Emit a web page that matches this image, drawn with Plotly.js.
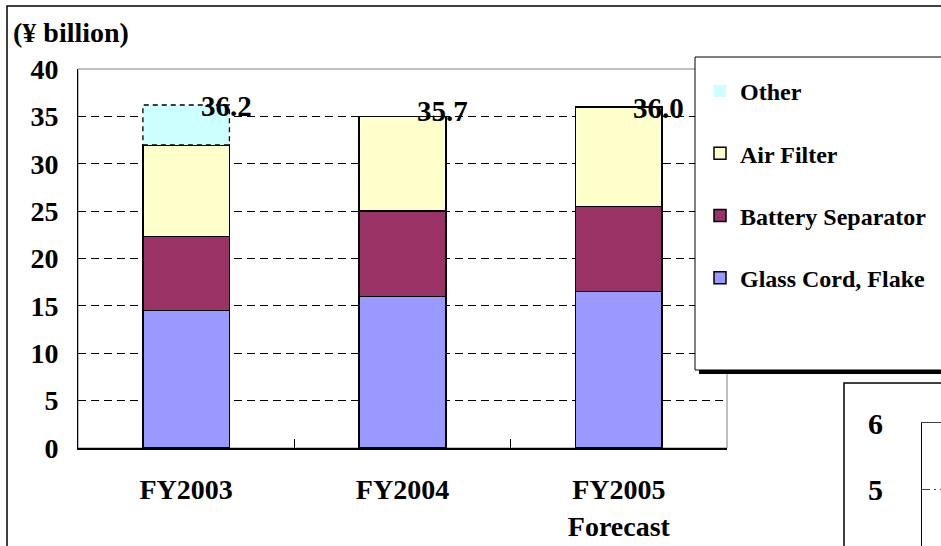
<!DOCTYPE html>
<html>
<head>
<meta charset="utf-8">
<script src="https://cdn.plot.ly/plotly-3.0.1.min.js"></script>
<style>
html,body{margin:0;padding:0;overflow:hidden;background:#fff;}
#chart{width:1000px;height:900px;}
</style>
</head>
<body>
<div id="chart"></div>
<script>
// ---- data ----
const categories = ["FY2003", "FY2004", "FY2005<br>Forecast"];
const glassCordFlake = [14.5, 16.0, 16.5];
const batterySeparator = [7.8, 9.0, 9.0];
const airFilter = [9.7, 10.0, 10.5];
const other = [4.2, 0, 0];
const totalLabels = ["36.2", "35.7", "36.0"];
const totals = [36.2, 35.7, 36.0];
const insetTicks = [0, 1, 2, 3, 4, 5, 6];

const W = 1000, H = 900;
const FONT = "Liberation Serif";
const xs = categories.map((_, i) => i);
const BW = 0.4;

function barTrace(name, vals, color, lw, group, rank) {
  return {
    type: "bar", x: xs, y: vals, name: name, width: BW,
    legendgroup: group, legendrank: rank,
    marker: {color: color, line: {color: "#000", width: lw}},
    hoverinfo: "skip"
  };
}

const traces = [
  barTrace("Glass Cord, Flake", glassCordFlake, "#9999FF", 1.5, "g1", 4),
  barTrace("Battery Separator", batterySeparator, "#993366", 1.5, "g2", 3),
  barTrace("Air Filter", airFilter, "#FFFFCC", 1.5, "g3", 2),
  barTrace("Other", other, "#CCFFFF", 0, "g4", 1)
];

// dashed outline around the "Other" segment, derived from the data
other.forEach((v, i) => {
  if (v <= 0) return;
  const base = glassCordFlake[i] + batterySeparator[i] + airFilter[i];
  const top = base + v;
  traces.push({
    type: "scatter", mode: "lines",
    x: [i - BW / 2, i + BW / 2, i + BW / 2, i - BW / 2, i - BW / 2],
    y: [base, base, top, top, base],
    line: {color: "#000", width: 1.3, dash: "5px,4px"},
    showlegend: false, hoverinfo: "skip", legendgroup: "g4", legendrank: 1
  });
});

// inset axis placeholder trace (empty)
traces.push({type: "scatter", x: [], y: [], xaxis: "x2", yaxis: "y2", showlegend: false, hoverinfo: "skip"});

const py = v => (H - v) / H;   // pixel-from-top -> paper
const px = v => v / W;

const annotations = totals.map((t, i) => ({
  x: i, y: t, xref: "x", yref: "y", text: totalLabels[i],
  showarrow: false, xshift: 40, yshift: -1, xanchor: "center", yanchor: "middle",
  font: {family: FONT, size: 29, color: "#000", weight: "bold"}
}));
annotations.push({
  x: px(11), y: py(32), xref: "paper", yref: "paper", text: "(¥ billion)",
  showarrow: false, xanchor: "left", yanchor: "middle",
  font: {family: FONT, size: 28, color: "#000", weight: "bold"}
});

const shapes = [
  // outer frame of the whole chart
  {type: "rect", xref: "paper", yref: "paper", x0: px(7), x1: px(995), y0: py(6), y1: py(895),
   line: {color: "#000", width: 1.5}, fillcolor: "rgba(0,0,0,0)", layer: "below"},
  // plot area frame (gray)
  {type: "rect", xref: "x domain", yref: "y domain", x0: 0, x1: 1, y0: 0, y1: 1,
   line: {color: "#808080", width: 1}, layer: "below"},
  // inset chart box
  {type: "rect", xref: "paper", yref: "paper", x0: px(844), x1: px(990), y0: py(383), y1: py(890),
   line: {color: "#000", width: 1.5}, fillcolor: "#fff", layer: "below"},
  // legend shadow
  {type: "rect", xref: "paper", yref: "paper", x0: px(699), x1: px(990), y0: py(61), y1: py(374),
   line: {width: 0}, fillcolor: "#000", layer: "above"},
  // legend box
  {type: "rect", xref: "paper", yref: "paper", x0: px(695), x1: px(986), y0: py(57), y1: py(370),
   line: {color: "#000", width: 1}, fillcolor: "#fff", layer: "above"}
];

const layout = {
  width: W, height: H,
  margin: {l: 0, r: 0, t: 0, b: 0},
  paper_bgcolor: "#fff", plot_bgcolor: "rgba(0,0,0,0)",
  barmode: "stack",
  hovermode: false,
  font: {family: FONT, color: "#000", weight: "bold"},
  xaxis: {
    domain: [px(78), px(727)], range: [-0.5, 2.5],
    tickvals: xs, ticktext: categories, ticks: "",
    ticklabelstandoff: 16,
    tickfont: {family: FONT, size: 28, color: "#000", weight: "bold"},
    showline: true, linecolor: "#000", linewidth: 1.5,
    showgrid: false, zeroline: false, fixedrange: true,
    minor: {tickvals: [0.5, 1.5], ticks: "inside", ticklen: 9, tickcolor: "#000", tickwidth: 1, showgrid: false}
  },
  yaxis: {
    domain: [py(448), py(69)], range: [0, 40], dtick: 5, tick0: 0,
    ticks: "", ticklabelstandoff: 13,
    tickfont: {family: FONT, size: 28, color: "#000", weight: "bold"},
    showline: true, linecolor: "#000", linewidth: 1,
    showgrid: true, gridcolor: "#000", gridwidth: 1, griddash: "8px,5px",
    zeroline: false, fixedrange: true
  },
  xaxis2: {
    domain: [px(922), 1], range: [0, 1], anchor: "y2", side: "top",
    showline: true, linecolor: "#404040", linewidth: 1,
    showticklabels: false, ticks: "", showgrid: false, zeroline: false, fixedrange: true
  },
  yaxis2: {
    domain: [py(819), py(423)], range: [0, 6], tickvals: insetTicks, anchor: "x2",
    ticks: "", ticklabelstandoff: 32,
    tickfont: {family: FONT, size: 30, color: "#000", weight: "bold"},
    showline: true, linecolor: "#000", linewidth: 1,
    showgrid: true, gridcolor: "#404040", gridwidth: 1, griddash: "8px,4px,2px,4px",
    zeroline: false, fixedrange: true
  },
  showlegend: true,
  legend: {
    x: px(700), y: py(69), xanchor: "left", yanchor: "top",
    traceorder: "grouped", tracegroupgap: 28,
    bgcolor: "rgba(0,0,0,0)", borderwidth: 0,
    font: {family: FONT, size: 24, color: "#000", weight: "bold"}
  },
  shapes: shapes,
  annotations: annotations
};

Plotly.newPlot("chart", traces, layout, {staticPlot: true, displayModeBar: false});
</script>
</body>
</html>
